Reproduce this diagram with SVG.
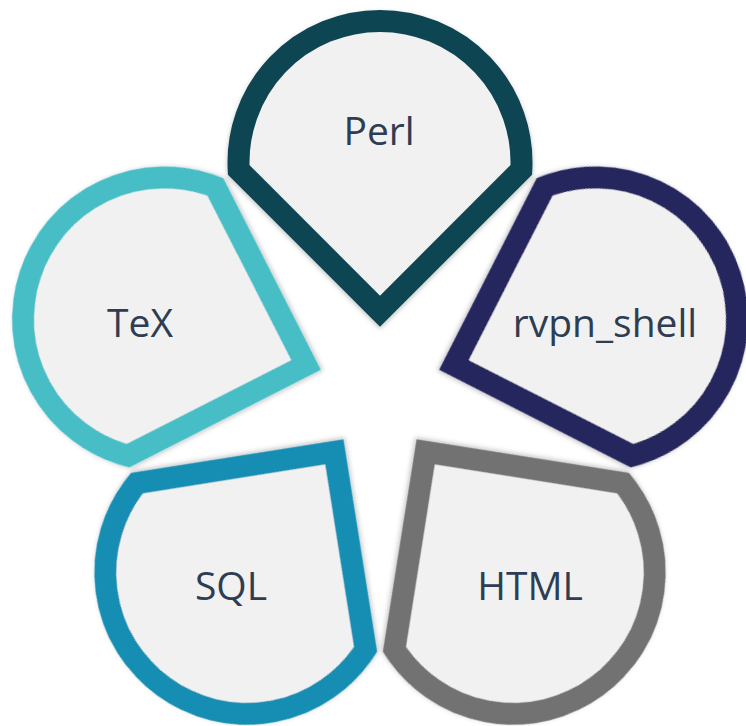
<svg xmlns="http://www.w3.org/2000/svg" width="746" height="726" viewBox="0 0 746 726">
  <style>
    .petal { fill: #f1f1f1; stroke-width: 22; stroke-linejoin: miter; stroke-miterlimit: 10; filter: url(#shadow); }
    .label { font-family: "Open Sans", "Noto Sans", "Liberation Sans", sans-serif; font-size: 39px; fill: #2e3d52; text-anchor: middle; }
  </style>
  <defs>
    <filter id="shadow" x="-20%" y="-20%" width="140%" height="140%">
      <feDropShadow dx="0" dy="2" stdDeviation="2.5" flood-color="#000" flood-opacity="0.25"/>
    </filter>
    <path id="drop" d="M 0 148.7 L -141.3 7.4 A 141.5 141.5 0 1 1 141.3 7.4 Z"/>
  </defs>
  <rect width="746" height="726" fill="#ffffff"/>
  <g id="connectors"/>
  <g id="node-perl">
    <use href="#drop" class="petal" stroke="#0f4553" transform="translate(380 162.5) rotate(0)"/>
    <text class="label" x="379" y="145">Perl</text>
  </g>
  <g id="node-rvpn_shell">
    <use href="#drop" class="petal" stroke="#25265f" transform="translate(595.4 319) rotate(72)"/>
    <text class="label" x="605" y="337">rvpn_shell</text>
  </g>
  <g id="node-html">
    <use href="#drop" class="petal" stroke="#727272" transform="translate(513.1 572.2) rotate(144)"/>
    <text class="label" x="530" y="600">HTML</text>
  </g>
  <g id="node-sql">
    <use href="#drop" class="petal" stroke="#198db2" transform="translate(246.9 572.2) rotate(216)"/>
    <text class="label" x="231" y="600">SQL</text>
  </g>
  <g id="node-tex">
    <use href="#drop" class="petal" stroke="#47bdc6" transform="translate(164.6 319) rotate(288)"/>
    <text class="label" x="140" y="337">TeX</text>
  </g>
</svg>
